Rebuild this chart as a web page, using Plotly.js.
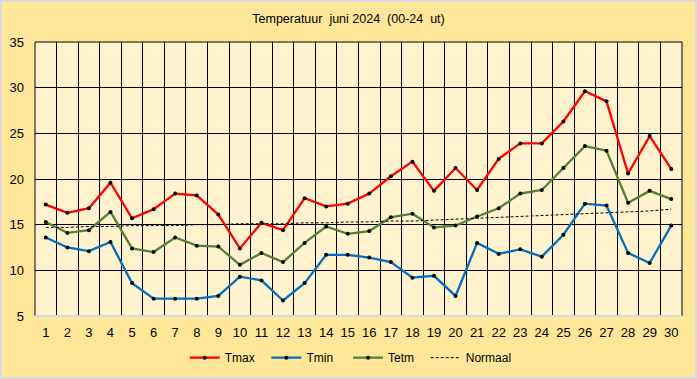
<!DOCTYPE html>
<html>
<head>
<meta charset="utf-8">
<script src="https://cdn.plot.ly/plotly-3.0.1.min.js"></script>
<style>
html,body{margin:0;padding:0;background:#FFE699;}
#wrap{position:relative;width:697px;height:379px;}
#chart{position:absolute;left:0;top:0;width:697px;height:379px;}
#frame{position:absolute;left:0;top:0;width:697px;height:379px;box-sizing:border-box;border:2px solid #d9d9d9;pointer-events:none;}
</style>
</head>
<body>
<div id="wrap"><div id="chart"></div><div id="frame"></div></div>
<script>
const days = [1,2,3,4,5,6,7,8,9,10,11,12,13,14,15,16,17,18,19,20,21,22,23,24,25,26,27,28,29,30];
const tmax = [17.2,16.3,16.8,19.6,15.7,16.7,18.4,18.2,16.1,12.4,15.2,14.4,17.9,17.0,17.3,18.4,20.3,21.9,18.7,21.2,18.8,22.2,23.9,23.9,26.3,29.6,28.5,20.6,24.7,21.1];
const tmin = [13.6,12.5,12.1,13.1,8.6,6.9,6.9,6.9,7.2,9.3,8.9,6.7,8.6,11.7,11.7,11.4,10.9,9.2,9.4,7.2,13.0,11.8,12.3,11.5,13.9,17.3,17.1,11.9,10.8,14.9];
const tetm = [15.3,14.1,14.4,16.4,12.4,12.0,13.6,12.7,12.6,10.6,11.9,10.9,13.0,14.8,14.0,14.3,15.8,16.2,14.7,14.9,15.9,16.8,18.4,18.8,21.2,23.6,23.1,17.4,18.7,17.8];
const normaal = [14.7,14.7,14.8,14.8,14.9,14.9,14.9,15.0,15.0,15.1,15.1,15.1,15.2,15.2,15.3,15.3,15.4,15.4,15.5,15.6,15.7,15.8,15.9,16.0,16.1,16.2,16.3,16.4,16.5,16.7];
const yTicks = [5,10,15,20,25,30,35];
const titleText = "Temperatuur&nbsp;&nbsp;juni 2024&nbsp;&nbsp;(00-24&nbsp;&nbsp;ut)";

const mk = {color:"#000000", size:4};
// vertical gridlines at day boundaries
const bounds = [];
for (let i = 0; i <= days.length; i++) bounds.push(days[0] - 0.5 + i);

const traces = [
  {x:[bounds[0], bounds[bounds.length-1]], y:[0,0], xaxis:"x2", yaxis:"y", mode:"lines", showlegend:false, hoverinfo:"skip", line:{width:0}},
  {x:[bounds[0], bounds[bounds.length-1]], y:[0,0], xaxis:"x", yaxis:"y2", mode:"lines", showlegend:false, hoverinfo:"skip", line:{width:0}},
  {x:days, y:tmax, name:"Tmax&nbsp;&nbsp;", type:"scatter", mode:"lines+markers", line:{color:"#FF0000", width:2.3}, marker:mk},
  {x:days, y:tmin, name:"Tmin&nbsp;&nbsp;&nbsp;", type:"scatter", mode:"lines+markers", line:{color:"#0070C0", width:2.3}, marker:mk},
  {x:days, y:tetm, name:"Tetm&nbsp;&nbsp;", type:"scatter", mode:"lines+markers", line:{color:"#548235", width:2.3}, marker:mk},
  {x:days, y:normaal, name:"Normaal", type:"scatter", mode:"lines", line:{color:"#000000", width:1, dash:"3px,2px"}}
];

const layout = {
  width:697, height:379,
  margin:{l:35, r:15, t:42, b:63, autoexpand:false},
  paper_bgcolor:"#FFE699",
  plot_bgcolor:"#FFF2CC",
  font:{family:"Liberation Sans, Arial, sans-serif", size:12, color:"#000000"},
  title:{text:titleText, x:0.5, xanchor:"center", y:0.952, yanchor:"middle", font:{size:12.5, color:"#000000"}},
  showlegend:true,
  legend:{orientation:"h", x:0.488, xanchor:"center", y:-0.152, yanchor:"middle", bgcolor:"rgba(0,0,0,0)",
          font:{size:12}, itemwidth:30, traceorder:"normal"},
  xaxis:{range:[0.5, 30.5], tickvals:days, ticktext:days.map(String), tickangle:0, showgrid:false,
         zeroline:false, ticks:"", showline:false, tickfont:{size:13}, ticklabelstandoff:7},
  xaxis2:{overlaying:"x", range:[0.5, 30.5], tickvals:bounds, showticklabels:false, showgrid:true,
          gridcolor:"#000000", gridwidth:1, zeroline:false, ticks:"", showline:false, layer:"below traces"},
  yaxis:{range:[5,35], tickvals:yTicks, ticktext:yTicks.map(String), showgrid:false,
         zeroline:false, showline:false, ticks:"", tickfont:{size:13}, ticklabelstandoff:10},
  yaxis2:{overlaying:"y", range:[5,35], tickvals:yTicks, showticklabels:false, showgrid:true,
          gridcolor:"#000000", gridwidth:1, zeroline:false, ticks:"", showline:false, layer:"below traces"},
  shapes:[
    {type:"line", xref:"paper", yref:"paper", x0:0, x1:1, y0:1, y1:1, line:{color:"#000000", width:1}, layer:"below"},
    {type:"line", xref:"paper", yref:"paper", x0:0, x1:0, y0:0, y1:1, line:{color:"#000000", width:1}, layer:"below"},
    {type:"line", xref:"paper", yref:"paper", x0:1, x1:1, y0:0, y1:1, line:{color:"#000000", width:1}, layer:"below"},
    {type:"line", xref:"paper", yref:"paper", x0:0, x1:1, y0:0, y1:0, line:{color:"#D9D9D9", width:2}}
  ]
};
Plotly.newPlot("chart", traces, layout, {displayModeBar:false});
</script>
</body>
</html>
